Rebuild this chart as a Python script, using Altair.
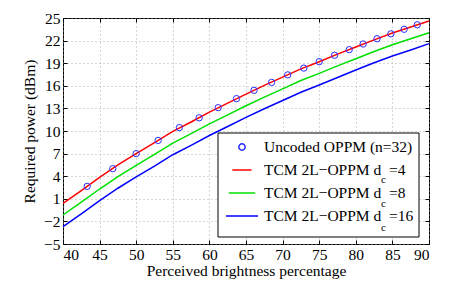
import altair as alt
import pandas as pd

# ---- data ----
x_grid = [40, 42.5, 45, 47.5, 50, 52.5, 55, 57.5, 60, 62.5, 65, 67.5, 70, 72.5, 75, 77.5, 80, 82.5, 85, 87.5, 90]
power_dc4 = [0.4, 2.1, 3.85, 5.5, 7.0, 8.45, 9.95, 11.2, 12.5, 13.7, 14.9, 16.05, 17.15, 18.25, 19.2, 20.2, 21.15, 22.1, 23.0, 23.8, 24.6]
power_dc8 = [-1.15, 0.55, 2.3, 3.95, 5.45, 6.9, 8.4, 9.65, 10.95, 12.15, 13.35, 14.5, 15.6, 16.7, 17.65, 18.65, 19.6, 20.55, 21.45, 22.25, 23.05]
power_dc16 = [-2.7, -1.0, 0.75, 2.4, 3.9, 5.35, 6.85, 8.1, 9.4, 10.6, 11.8, 12.95, 14.05, 15.15, 16.1, 17.1, 18.1, 19.05, 19.95, 20.75, 21.6]

brightness_uncoded = [43.3, 46.8, 50.0, 53.0, 55.9, 58.6, 61.2, 63.7, 66.1, 68.5, 70.7, 72.9, 75.0, 77.1, 79.1, 81.0, 82.9, 84.8, 86.6, 88.4]
power_uncoded = [2.65, 5.0, 7.0, 8.75, 10.45, 11.75, 13.1, 14.3, 15.4, 16.45, 17.45, 18.35, 19.2, 20.05, 20.8, 21.55, 22.25, 22.9, 23.5, 24.1]

series_names = [
    "Uncoded OPPM (n=32)",
    "TCM 2L\u2212OPPM d\u2002=4",
    "TCM 2L\u2212OPPM d\u2002=8",
    "TCM 2L\u2212OPPM d\u2002=16",
]
series_colors = ["#2a2aff", "#ff0000", "#00e000", "#0000ff"]
series_shapes = ["circle", "stroke", "stroke", "stroke"]
series_sizes = [40, 1024, 1024, 1024]
subscript = "c"

x_ticks = [40, 45, 50, 55, 60, 65, 70, 75, 80, 85, 90]
y_ticks = [-5, -2, 1, 4, 7, 10, 13, 16, 19, 22, 25]

W, H = 366, 226
FONT = "Liberation Serif"
FS = 15.5

# ---- tables ----
rows = []
for name, vals in zip(series_names[1:], [power_dc4, power_dc8, power_dc16]):
    for b, p in zip(x_grid, vals):
        rows.append({"b": b, "p": p, "series": name})
lines_df = pd.DataFrame(rows)
pts_df = pd.DataFrame({"b": brightness_uncoded, "p": power_uncoded, "series": series_names[0]})

xscale = alt.Scale(domain=[40, 90], nice=False, zero=False)
yscale = alt.Scale(domain=[-5, 25], nice=False, zero=False)

leg = alt.Legend(
    title=None, orient="none", legendX=155, legendY=115,
    padding=7,
    labelFont=FONT, labelFontSize=FS, labelColor="black", labelOffset=5,
    symbolStrokeWidth=1.5, clipHeight=14, rowPadding=7, labelLimit=300,
)
color = alt.Color("series:N", scale=alt.Scale(domain=series_names, range=series_colors), legend=leg)


def tick_axis(orient, vals, off):
    return alt.Axis(orient=orient, values=vals, offset=off, labels=False, grid=False,
                    domain=False, ticks=True, tickSize=4, tickColor="black", title=None)


main_x = alt.Axis(orient="bottom", values=x_ticks, title="Perceived brightness percentage",
                  grid=True, ticks=False, domain=False, labelPadding=3, titlePadding=1)
main_y = alt.Axis(orient="left", values=y_ticks, title="Required power (dBm)",
                  grid=True, ticks=False, domain=False, labelPadding=3, titlePadding=6)

# legend box (white panel behind the legend entries)
legend_box = alt.Chart(pd.DataFrame({"k": [0]})).mark_rect(
    fill="white", stroke="black", strokeWidth=1
).encode(x=alt.value(155), x2=alt.value(356), y=alt.value(115), y2=alt.value(219))

gb = alt.Chart(lines_df).transform_filter(
    alt.FieldOneOfPredicate(field="series", oneOf=series_names[2:])
).mark_line(strokeWidth=1.5).encode(
    x=alt.X("b:Q", scale=xscale, axis=main_x),
    y=alt.Y("p:Q", scale=yscale, axis=main_y),
    color=color,
    detail="series:N",
)

red = alt.Chart(lines_df).transform_filter(
    alt.FieldEqualPredicate(field="series", equal=series_names[1])
).mark_line(strokeWidth=1.5).encode(
    x=alt.X("b:Q", scale=xscale, axis=tick_axis("bottom", x_ticks, -H)),
    y=alt.Y("p:Q", scale=yscale, axis=tick_axis("left", y_ticks, -W)),
    color=color,
)

pts = alt.Chart(pts_df).mark_point(filled=False, strokeWidth=1, opacity=1).encode(
    x=alt.X("b:Q", scale=xscale, axis=tick_axis("top", x_ticks, -H)),
    y=alt.Y("p:Q", scale=yscale, axis=tick_axis("right", y_ticks, -W)),
    color=color,
    shape=alt.Shape("series:N", scale=alt.Scale(domain=series_names, range=series_shapes), legend=leg),
    size=alt.Size("series:N", scale=alt.Scale(domain=series_names, range=series_sizes), legend=leg),
)

subs = []
for i in range(3):
    subs.append(
        alt.Chart(pd.DataFrame({"t": [subscript]})).mark_text(
            font=FONT, fontSize=11, align="left", baseline="middle", color="black"
        ).encode(text="t:N", x=alt.value(318), y=alt.value(162 + 24 * i))
    )

chart = alt.layer(legend_box, gb, red, pts, *subs).resolve_axis(
    x="independent", y="independent"
).properties(
    width=W, height=H,
    autosize=alt.AutoSizeParams(type="none"),
    padding={"left": 55, "top": 10, "right": 30, "bottom": 38},
).configure_view(
    stroke="black", strokeWidth=1
).configure_axis(
    labelFont=FONT, labelFontSize=FS, labelColor="black",
    titleFont=FONT, titleFontSize=FS, titleFontWeight="normal", titleColor="black",
    gridColor="#9a9a9a", gridDash=[1, 3], gridWidth=0.8,
)

chart.save("out.html", embed_options={"renderer": "svg", "actions": False})
